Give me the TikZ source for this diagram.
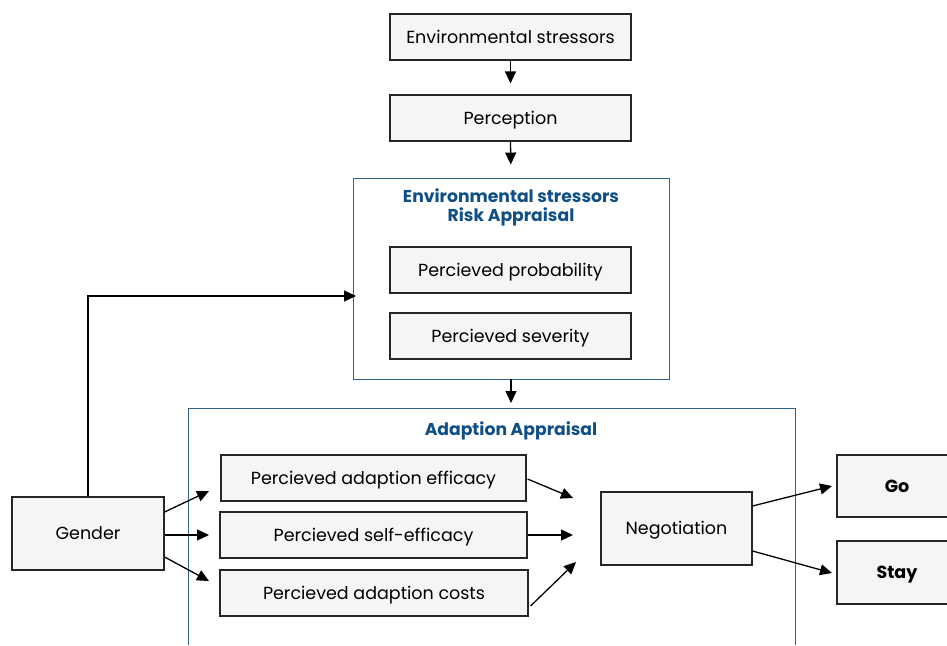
\documentclass[tikz,border=0pt]{standalone}
\usepackage{fontspec}
\setmainfont{Poppins}
\usetikzlibrary{arrows.meta}
\definecolor{frameblue}{HTML}{2F6396}
\definecolor{titleblue}{HTML}{104F86}
\definecolor{boxfill}{HTML}{F5F5F5}
\begin{document}
\begin{tikzpicture}[x=1pt,y=-1pt,
  box/.style={draw=black!85,line width=1.1pt,fill=boxfill,inner sep=0pt,text height=14pt,text depth=2pt,font=\fontsize{17.5}{20}\selectfont},
  frame/.style={draw=frameblue,line width=0.9pt},
  ttl/.style={text=titleblue,font=\fontsize{17.2}{19}\selectfont\bfseries,align=center},
  arr/.style={-{Triangle[length=12pt,width=11pt]},line width=1.3pt,black}]
\useasboundingbox (0,0) rectangle (947,645);
% top boxes
\node[box,minimum width=241pt,minimum height=46pt] (env) at (510.5,37) {Environmental stressors};
\node[box,minimum width=241pt,minimum height=46pt] (perc) at (510.5,118) {Perception};
% risk frame
\node[frame,minimum width=316pt,minimum height=201pt] (risk) at (511,278.5) {};
\node[ttl] (risktitle) at (511,207.5) {Environmental stressors\\Risk Appraisal};
\node[box,minimum width=241pt,minimum height=46pt] (prob) at (510.5,270) {Percieved probability};
\node[box,minimum width=241pt,minimum height=46pt] (sev) at (510.5,336) {Percieved severity};
% adaption frame
\coordinate (adtop) at (511,408);
\draw[frame] (188,645) -- (188,408) -- (795,408) -- (795,645);
\node[ttl] (adtitle) at (511,431) {Adaption Appraisal};
\node[box,minimum width=305pt,minimum height=46pt] (pae) at (373.5,478) {Percieved adaption efficacy};
\node[box,minimum width=307pt,minimum height=46pt] (pse) at (373.5,535) {Percieved self-efficacy};
\node[box,minimum width=308pt,minimum height=46pt] (pac) at (374,593) {Percieved adaption costs};
\node[box,minimum width=151pt,minimum height=73pt] (neg) at (676.5,528.5) {Negotiation};
\node[box,minimum width=152pt,minimum height=73pt] (gender) at (88,533.5) {Gender};
\node[box,minimum width=120pt,minimum height=62pt,font=\fontsize{17.5}{20}\selectfont\bfseries] (go) at (897,486) {Go};
\node[box,minimum width=120pt,minimum height=63pt,font=\fontsize{17.5}{20}\selectfont\bfseries] (stay) at (897,572.5) {Stay};
% coordinates for arrow ends
\coordinate (rin) at (356,296);
\coordinate (g1) at (209,491);
\coordinate (g2) at (209,535);
\coordinate (g3) at (209,581);
\coordinate (n1) at (573,498);
\coordinate (n2) at (573,535);
\coordinate (n3) at (576,562);
\coordinate (o1) at (832,486);
\coordinate (o2) at (832,573);
% arrows
\draw[arr,shorten >=11pt] (env.south) -- (perc.north);
\draw[arr,shorten >=13pt] (perc.south) -- (risk.north);
\draw[arr,shorten >=5pt] (risk.south) -- (adtop);
\draw[arr] (gender.north) |- (rin);
\draw[arr] ([yshift=21.5pt]gender.east) -- (g1);
\draw[arr] ([yshift=-1.5pt]gender.east) -- (g2);
\draw[arr] ([yshift=-23.5pt]gender.east) -- (g3);
\draw[arr] ([xshift=1pt,yshift=-1pt]pae.east) -- (n1);
\draw[arr] (pse.east) -- (n2);
\draw[arr] ([xshift=2pt,yshift=-13pt]pac.east) -- (n3);
\draw[arr] ([yshift=22.5pt]neg.east) -- (o1);
\draw[arr] ([yshift=-22.5pt]neg.east) -- (o2);
\end{tikzpicture}
\end{document}
